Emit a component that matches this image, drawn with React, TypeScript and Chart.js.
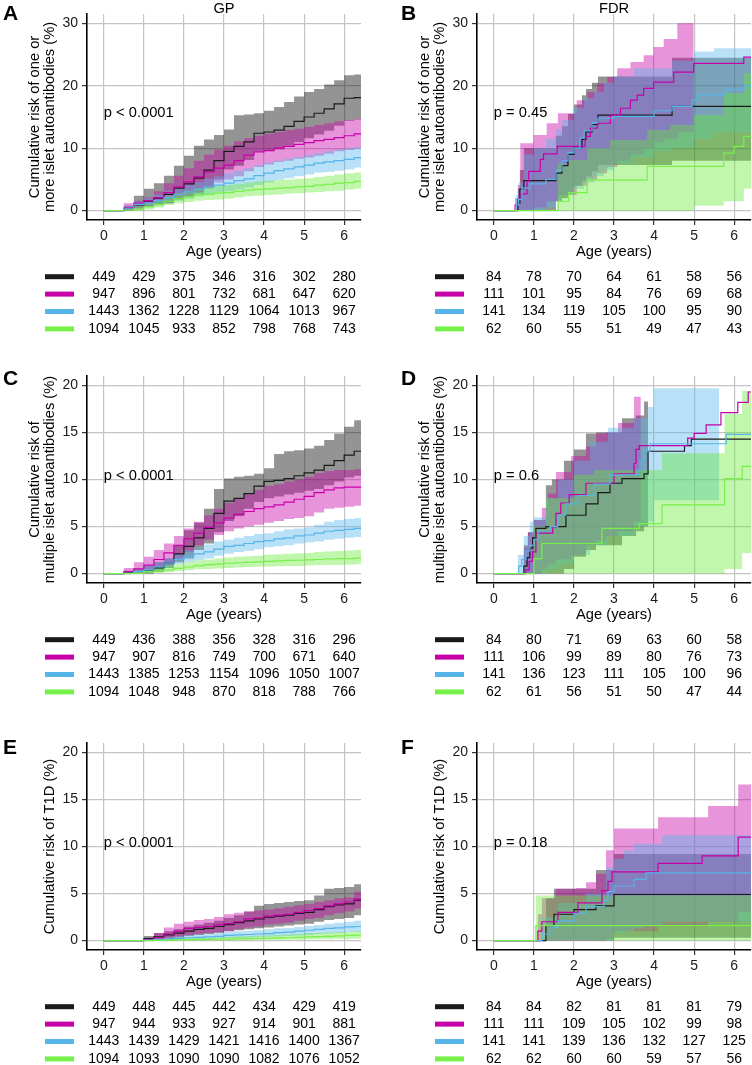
import React, { useEffect, useRef } from "react";
import { Chart, registerables } from "chart.js";

Chart.register(...registerables);

const FONT = "'Liberation Sans', Arial, Helvetica, sans-serif";

// ---------- axes ----------
const xTicks = [0, 1, 2, 3, 4, 5, 6];
const yTicks30 = [0, 10, 20, 30];
const yTicks20 = [0, 5, 10, 15, 20];
const X_MIN = -0.42;
const X_MAX = 6.42;

// ---------- numbers at risk (rows: black, magenta, blue, green) ----------
const riskA_black = [449, 429, 375, 346, 316, 302, 280];
const riskA_pink = [947, 896, 801, 732, 681, 647, 620];
const riskA_blue = [1443, 1362, 1228, 1129, 1064, 1013, 967];
const riskA_green = [1094, 1045, 933, 852, 798, 768, 743];
const riskB_black = [84, 78, 70, 64, 61, 58, 56];
const riskB_pink = [111, 101, 95, 84, 76, 69, 68];
const riskB_blue = [141, 134, 119, 105, 100, 95, 90];
const riskB_green = [62, 60, 55, 51, 49, 47, 43];
const riskC_black = [449, 436, 388, 356, 328, 316, 296];
const riskC_pink = [947, 907, 816, 749, 700, 671, 640];
const riskC_blue = [1443, 1385, 1253, 1154, 1096, 1050, 1007];
const riskC_green = [1094, 1048, 948, 870, 818, 788, 766];
const riskD_black = [84, 80, 71, 69, 63, 60, 58];
const riskD_pink = [111, 106, 99, 89, 80, 76, 73];
const riskD_blue = [141, 136, 123, 111, 105, 100, 96];
const riskD_green = [62, 61, 56, 51, 50, 47, 44];
const riskE_black = [449, 448, 445, 442, 434, 429, 419];
const riskE_pink = [947, 944, 933, 927, 914, 901, 881];
const riskE_blue = [1443, 1439, 1429, 1421, 1416, 1400, 1367];
const riskE_green = [1094, 1093, 1090, 1090, 1082, 1076, 1052];
const riskF_black = [84, 84, 82, 81, 81, 81, 79];
const riskF_pink = [111, 111, 109, 105, 102, 99, 98];
const riskF_blue = [141, 141, 139, 136, 132, 127, 125];
const riskF_green = [62, 62, 60, 60, 59, 57, 56];

// ---------- GP curves (shared time grid, years) ----------
const gpT = [0, 0.45, 0.5, 0.75, 1, 1.25, 1.5, 1.75, 2, 2.25, 2.5, 2.75, 3, 3.25, 3.5, 3.75, 4, 4.25, 4.5, 4.75, 5, 5.25, 5.5, 5.75, 6, 6.25, 6.45];

const aBlack = [0, 0, 0.3, 0.9, 1.5, 2.0, 2.6, 3.6, 4.3, 5.2, 6.5, 8.0, 9.5, 10.3, 11.0, 12.4, 12.6, 12.9, 13.5, 14.3, 15.0, 15.6, 16.3, 17.1, 18.0, 18.1, 18.1];
const aBlackLo = [0, 0, 0, 0.2, 0.6, 0.9, 1.2, 1.8, 2.2, 2.7, 3.6, 5.0, 6.6, 7.2, 8.1, 9.5, 9.6, 9.8, 10.4, 11.0, 11.6, 12.2, 12.8, 13.6, 14.4, 14.6, 14.6];
const aBlackHi = [0, 0, 0.8, 2.4, 3.5, 4.4, 5.6, 7.2, 8.8, 10.4, 11.4, 12.1, 13.0, 15.3, 15.4, 15.6, 16.0, 16.6, 17.4, 18.3, 19.0, 19.5, 20.2, 20.9, 21.7, 21.8, 21.8];
const aPink = [0, 0, 0.4, 1.2, 1.6, 2.1, 2.9, 3.8, 4.6, 5.4, 6.2, 6.8, 7.3, 8.0, 8.9, 9.4, 9.6, 10.0, 10.3, 10.6, 10.9, 11.2, 11.4, 11.7, 12.0, 12.3, 12.4];
const aPinkLo = [0, 0, 0, 0.3, 0.6, 0.9, 1.2, 1.8, 2.2, 3.0, 3.6, 4.5, 5.0, 5.5, 6.3, 7.0, 7.4, 7.8, 8.0, 8.3, 8.5, 8.8, 9.1, 9.5, 9.7, 9.9, 10.0];
const aPinkHi = [0, 0, 1.2, 1.6, 2.1, 3.1, 4.4, 5.6, 6.8, 8.0, 9.0, 9.8, 10.4, 11.1, 11.6, 12.0, 12.3, 12.6, 12.9, 13.1, 13.4, 13.7, 14.0, 14.3, 14.5, 14.7, 14.8];
const aBlue = [0, 0, 0.3, 1.0, 1.2, 1.6, 2.1, 2.6, 3.0, 3.4, 3.8, 4.1, 4.4, 4.8, 5.1, 5.6, 6.0, 6.4, 6.7, 7.0, 7.3, 7.6, 7.8, 8.0, 8.2, 8.5, 8.7];
const aBlueLo = [0, 0, 0, 0.5, 0.6, 0.8, 1.2, 1.6, 1.9, 2.3, 2.6, 2.9, 3.1, 3.4, 3.7, 4.1, 4.5, 4.9, 5.2, 5.5, 5.8, 6.1, 6.2, 6.4, 6.6, 6.9, 7.1];
const aBlueHi = [0, 0, 0.8, 1.5, 2.0, 2.6, 3.2, 3.7, 4.2, 4.6, 5.1, 5.5, 6.0, 6.4, 6.8, 7.3, 7.7, 8.0, 8.3, 8.6, 8.9, 9.2, 9.5, 9.8, 10.0, 10.2, 10.3];
const aGreen = [0, 0, 0.1, 0.3, 0.6, 1.0, 1.5, 1.9, 2.2, 2.5, 2.6, 2.8, 2.9, 3.1, 3.3, 3.4, 3.5, 3.6, 3.7, 3.8, 3.9, 4.1, 4.2, 4.4, 4.5, 4.7, 4.8];
const aGreenLo = [0, 0, 0, 0, 0.2, 0.5, 0.9, 1.2, 1.4, 1.6, 1.7, 1.8, 1.9, 2.1, 2.3, 2.4, 2.5, 2.6, 2.7, 2.8, 2.9, 3.0, 3.1, 3.2, 3.4, 3.5, 3.6];
const aGreenHi = [0, 0, 0.4, 0.8, 1.2, 1.7, 2.3, 2.8, 3.2, 3.6, 3.8, 4.0, 4.1, 4.3, 4.5, 4.7, 4.8, 4.9, 5.0, 5.1, 5.2, 5.4, 5.6, 5.8, 6.0, 6.1, 6.2];

const cBlack = [0, 0, 0.1, 0.2, 0.3, 0.6, 1.1, 2.1, 2.9, 3.8, 4.8, 6.4, 7.7, 8.0, 8.5, 9.3, 9.8, 9.9, 10.1, 10.4, 10.7, 11.0, 11.5, 12.0, 12.6, 13.0, 13.0];
const cBlackLo = [0, 0, 0, 0, 0, 0.2, 0.6, 1.2, 1.6, 2.5, 3.2, 4.4, 5.6, 6.1, 6.9, 7.6, 8.0, 8.2, 8.4, 8.6, 8.8, 9.0, 9.4, 9.8, 10.2, 10.4, 10.4];
const cBlackHi = [0, 0, 0.3, 0.5, 0.8, 1.2, 1.6, 3.0, 4.6, 5.4, 6.9, 9.0, 10.1, 10.3, 10.4, 10.6, 11.2, 12.7, 13.0, 13.1, 13.3, 13.6, 14.2, 14.9, 15.6, 16.3, 16.3];
const cPink = [0, 0, 0.2, 0.5, 0.9, 1.5, 2.2, 3.0, 3.7, 4.3, 4.9, 5.4, 5.9, 6.3, 6.6, 6.9, 7.1, 7.3, 7.6, 7.9, 8.2, 8.6, 8.9, 9.1, 9.2, 9.2, 9.2];
const cPinkLo = [0, 0, 0, 0.1, 0.3, 0.6, 0.9, 1.6, 2.3, 3.0, 3.6, 4.1, 4.5, 4.8, 5.0, 5.2, 5.4, 5.6, 5.8, 5.9, 6.1, 6.5, 6.9, 7.0, 7.1, 7.2, 7.2];
const cPinkHi = [0, 0, 0.6, 1.2, 1.8, 2.5, 3.2, 4.0, 4.8, 5.5, 6.2, 6.9, 7.5, 8.0, 8.5, 8.9, 9.3, 9.5, 9.8, 10.0, 10.3, 10.7, 10.9, 11.0, 11.0, 11.1, 11.1];
const cBlue = [0, 0, 0.05, 0.2, 0.4, 0.7, 1.1, 1.5, 1.8, 2.1, 2.3, 2.6, 2.9, 3.0, 3.2, 3.4, 3.5, 3.7, 3.8, 4.0, 4.1, 4.3, 4.5, 4.6, 4.7, 4.8, 4.9];
const cBlueLo = [0, 0, 0, 0, 0.1, 0.3, 0.6, 1.0, 1.2, 1.4, 1.6, 1.9, 2.1, 2.3, 2.4, 2.6, 2.8, 2.9, 3.0, 3.2, 3.3, 3.4, 3.6, 3.7, 3.8, 3.9, 4.0];
const cBlueHi = [0, 0, 0.2, 0.5, 0.9, 1.2, 1.6, 2.1, 2.5, 2.8, 3.1, 3.4, 3.6, 3.8, 4.0, 4.2, 4.3, 4.5, 4.7, 4.8, 4.9, 5.2, 5.5, 5.7, 5.8, 5.9, 5.9];
const cGreen = [0, 0, 0, 0.05, 0.2, 0.3, 0.4, 0.55, 0.7, 0.85, 0.95, 1.0, 1.1, 1.15, 1.2, 1.25, 1.3, 1.35, 1.4, 1.42, 1.45, 1.5, 1.55, 1.6, 1.6, 1.65, 1.7];
const cGreenLo = [0, 0, 0, 0, 0, 0.05, 0.15, 0.25, 0.35, 0.45, 0.5, 0.55, 0.6, 0.65, 0.7, 0.72, 0.75, 0.78, 0.8, 0.82, 0.85, 0.88, 0.9, 0.92, 0.95, 1.0, 1.0];
const cGreenHi = [0, 0, 0.1, 0.3, 0.5, 0.7, 0.9, 1.0, 1.2, 1.4, 1.5, 1.6, 1.7, 1.8, 1.85, 1.9, 2.0, 2.05, 2.1, 2.15, 2.2, 2.3, 2.35, 2.4, 2.45, 2.5, 2.5];

const eBlack = [0, 0, 0, 0, 0.2, 0.4, 0.6, 0.8, 1.0, 1.2, 1.3, 1.5, 1.7, 1.9, 2.1, 2.3, 2.5, 2.6, 2.7, 2.9, 3.0, 3.3, 3.6, 3.8, 3.9, 4.3, 4.6];
const eBlackLo = [0, 0, 0, 0, 0, 0.1, 0.2, 0.3, 0.5, 0.6, 0.7, 0.8, 1.0, 1.1, 1.2, 1.3, 1.4, 1.5, 1.6, 1.7, 1.8, 2.0, 2.2, 2.3, 2.4, 2.7, 3.0];
const eBlackHi = [0, 0, 0, 0, 0.5, 0.8, 1.0, 1.2, 1.5, 1.7, 1.9, 2.1, 2.4, 2.7, 3.1, 3.7, 3.9, 4.0, 4.1, 4.2, 4.3, 4.8, 5.5, 5.6, 5.7, 6.0, 6.2];
const ePink = [0, 0, 0, 0, 0.1, 0.3, 0.7, 1.0, 1.3, 1.4, 1.5, 1.7, 1.8, 2.0, 2.3, 2.4, 2.6, 2.7, 2.8, 3.0, 3.2, 3.4, 3.7, 3.9, 4.1, 4.4, 4.7];
const ePinkLo = [0, 0, 0, 0, 0, 0, 0.2, 0.4, 0.6, 0.7, 0.8, 0.9, 1.0, 1.2, 1.4, 1.5, 1.7, 1.8, 1.9, 2.1, 2.3, 2.4, 2.7, 2.9, 3.1, 3.4, 3.6];
const ePinkHi = [0, 0, 0, 0, 0.3, 0.8, 1.4, 1.8, 2.0, 2.2, 2.3, 2.5, 2.8, 2.95, 3.1, 3.2, 3.3, 3.45, 3.6, 3.75, 3.9, 4.1, 4.3, 4.5, 4.6, 5.2, 5.6];
const eBlue = [0, 0, 0, 0, 0.05, 0.1, 0.15, 0.2, 0.3, 0.35, 0.4, 0.45, 0.55, 0.6, 0.65, 0.7, 0.75, 0.85, 0.9, 1.0, 1.1, 1.2, 1.3, 1.35, 1.45, 1.5, 1.55];
const eBlueLo = [0, 0, 0, 0, 0, 0, 0.02, 0.05, 0.1, 0.12, 0.15, 0.2, 0.25, 0.28, 0.3, 0.35, 0.4, 0.45, 0.5, 0.55, 0.6, 0.7, 0.75, 0.8, 0.9, 0.92, 0.95];
const eBlueHi = [0, 0, 0, 0, 0.15, 0.25, 0.35, 0.45, 0.6, 0.65, 0.7, 0.8, 0.9, 1.0, 1.05, 1.1, 1.2, 1.3, 1.35, 1.45, 1.55, 1.65, 1.8, 1.9, 2.0, 2.1, 2.15];
const eGreen = [0, 0, 0, 0, 0, 0.02, 0.05, 0.08, 0.1, 0.11, 0.12, 0.14, 0.15, 0.18, 0.2, 0.22, 0.25, 0.28, 0.3, 0.35, 0.4, 0.42, 0.45, 0.5, 0.55, 0.58, 0.6];
const eGreenLo = [0, 0, 0, 0, 0, 0, 0, 0, 0, 0, 0, 0, 0.02, 0.03, 0.04, 0.05, 0.06, 0.07, 0.08, 0.1, 0.12, 0.13, 0.14, 0.16, 0.18, 0.19, 0.2];
const eGreenHi = [0, 0, 0, 0, 0, 0.08, 0.15, 0.2, 0.25, 0.28, 0.3, 0.35, 0.4, 0.45, 0.5, 0.52, 0.55, 0.6, 0.65, 0.72, 0.8, 0.82, 0.85, 0.9, 0.95, 1.0, 1.05];

// ---------- FDR curves (own event times) ----------
const bBlackT = [0, 0.6, 0.65, 0.75, 1.55, 1.7, 1.85, 2.0, 2.2, 2.3, 2.45, 2.6, 4.45, 6.45];
const bBlack = [0, 1.2, 3.5, 4.8, 6.0, 7.2, 9.0, 10.2, 11.4, 12.6, 13.8, 15.3, 16.7, 16.7];
const bBlackLo = [0, 0, 0, 0, 1.5, 2.0, 3.0, 4.0, 4.8, 5.5, 6.3, 7.3, 8.0, 8.0];
const bBlackHi = [0, 3.5, 6.5, 10.0, 12.0, 13.5, 15.5, 17.0, 18.5, 19.5, 20.5, 21.5, 24.5, 24.5];
const bPinkT = [0, 0.53, 0.6, 0.68, 0.83, 0.87, 1.16, 1.24, 1.58, 2.28, 2.41, 2.58, 2.91, 3.16, 3.41, 3.58, 3.74, 3.99, 4.49, 4.99, 6.24, 6.45];
const bPink = [0, 0.9, 1.8, 2.7, 4.7, 6.3, 8.2, 9.1, 10.3, 11.9, 13.2, 14.0, 15.3, 16.4, 17.7, 18.5, 19.6, 20.6, 22.2, 23.6, 24.6, 24.6];
const bPinkBandT = [0, 0.53, 0.6, 0.66, 0.99, 1.32, 1.6, 2.07, 2.33, 2.58, 2.83, 3.08, 3.41, 3.74, 3.99, 4.24, 4.58, 4.99];
const bPinkLo = [0, 0, 0, 0, 0.5, 1.5, 2.5, 4.0, 5.0, 6.0, 7.0, 8.0, 9.0, 10.0, 11.0, 11.5, 12.5, 12.5];
const bPinkHi = [0, 2.0, 4.1, 10.8, 12.1, 14.0, 15.6, 17.7, 19.0, 20.4, 21.4, 22.8, 23.8, 24.9, 26.2, 27.5, 30.0, 30.0];
const bBlueT = [0, 0.55, 0.62, 0.7, 0.9, 1.3, 1.55, 1.7, 1.85, 2.0, 2.15, 2.25, 2.45, 2.6, 3.0, 4.0, 4.45, 4.95, 5.1, 5.75, 6.25, 6.45];
const bBlue = [0, 0.9, 1.8, 3.6, 4.3, 5.0, 6.4, 8.0, 9.3, 10.0, 11.6, 12.8, 14.1, 14.8, 15.1, 16.0, 16.7, 17.8, 18.6, 19.4, 20.0, 20.0];
const bBlueBandT = [0, 0.55, 0.62, 0.75, 1.0, 1.3, 1.55, 1.7, 2.0, 2.25, 2.5, 2.75, 3.0, 3.5, 4.0, 4.45, 5.0, 5.5, 6.45];
const bBlueLo = [0, 0, 0, 0, 0, 0.5, 1.5, 2.5, 3.5, 4.5, 5.5, 6.5, 7.5, 8.5, 9.5, 10.0, 11.5, 12.5, 12.5];
const bBlueHi = [0, 2.5, 4.5, 9.0, 10.0, 11.5, 13.0, 14.5, 16.5, 18.0, 19.0, 20.5, 21.5, 22.8, 22.8, 24.0, 25.5, 26.0, 26.0];
const bGreenT = [0, 1.6, 1.87, 2.33, 3.83, 5.74, 6.0, 6.24, 6.45];
const bGreen = [0, 1.5, 2.9, 4.9, 7.1, 9.2, 10.3, 11.9, 11.9];
const bGreenBandT = [0, 1.6, 1.87, 2.33, 2.9, 3.83, 4.4, 5.0, 5.74, 6.24, 6.45];
const bGreenLo = [0, 0, 0, 0, 0, 0, 0, 0.8, 1.5, 3.5, 3.5];
const bGreenHi = [0, 7.5, 8.1, 10.0, 11.3, 12.9, 13.7, 15.3, 18.8, 22.0, 22.0];

const dBlackT = [0, 0.75, 0.83, 0.9, 0.97, 1.05, 1.3, 1.8, 2.3, 2.6, 2.9, 3.2, 3.75, 3.85, 4.76, 4.93, 6.45];
const dBlack = [0, 0.8, 1.7, 2.7, 3.8, 4.8, 5.0, 6.2, 7.4, 8.6, 9.6, 10.1, 10.6, 13.0, 13.6, 14.3, 14.3];
const dBlackBandT = [0, 0.75, 0.85, 1.0, 1.3, 1.45, 1.75, 2.0, 2.3, 2.55, 3.2, 3.55, 3.75, 3.85];
const dBlackLo = [0, 0, 0, 0, 0, 0, 0.5, 1.8, 2.5, 3.0, 4.0, 4.5, 5.0, 5.0];
const dBlackHi = [0, 3.0, 4.4, 5.7, 9.4, 10.0, 12.0, 13.2, 14.9, 15.0, 16.5, 16.8, 18.3, 18.3];
const dPinkT = [0, 0.8, 0.88, 0.97, 1.05, 1.47, 1.55, 1.67, 1.88, 2.3, 3.0, 3.5, 3.55, 3.63, 4.84, 5.0, 5.3, 5.67, 6.09, 6.35, 6.45];
const dPink = [0, 0.4, 1.3, 2.3, 4.3, 5.0, 6.4, 7.5, 8.4, 9.6, 10.6, 11.7, 13.2, 13.6, 14.4, 14.9, 15.8, 17.1, 18.2, 19.3, 19.3];
const dPinkBandT = [0, 0.75, 0.85, 1.0, 1.2, 1.35, 1.55, 1.93, 2.3, 2.55, 2.8, 3.1, 3.5, 3.67];
const dPinkLo = [0, 0, 0, 0, 0.5, 1.0, 1.5, 2.0, 3.0, 3.5, 4.0, 4.5, 5.5, 5.5];
const dPinkHi = [0, 2.8, 4.4, 5.7, 7.0, 8.5, 10.8, 12.5, 13.5, 14.9, 15.0, 16.0, 18.8, 18.8];
const dBlueT = [0, 0.62, 0.7, 0.8, 0.9, 1.0, 1.1, 1.4, 1.6, 1.8, 2.1, 2.5, 2.9, 3.6, 3.65, 3.75, 3.9, 5.8, 6.45];
const dBlue = [0, 0.8, 1.5, 2.4, 3.0, 3.6, 4.5, 5.0, 6.2, 7.4, 8.3, 9.5, 10.5, 11.0, 12.0, 13.0, 13.8, 14.8, 14.8];
const dBlueBandT = [0, 0.6, 0.75, 0.9, 1.0, 1.3, 1.6, 2.0, 2.4, 2.85, 3.5, 3.85, 4.0, 5.63];
const dBlueLo = [0, 0, 0, 0, 0, 0.5, 1.0, 2.0, 3.0, 4.0, 5.0, 5.5, 7.8, 7.8];
const dBlueHi = [0, 2.0, 4.0, 5.5, 6.0, 8.0, 10.0, 12.0, 14.0, 15.5, 16.5, 17.7, 19.7, 19.7];
const dGreenT = [0, 1.0, 1.2, 2.7, 3.63, 4.2, 5.76, 6.2, 6.45];
const dGreen = [0, 1.6, 3.2, 4.8, 5.3, 7.3, 10.1, 11.4, 11.4];
const dGreenBandT = [0, 1.0, 1.3, 2.0, 2.5, 3.9, 4.2, 5.6, 5.76, 6.2, 6.45];
const dGreenLo = [0, 0, 0, 0, 0, 0, 0, 0, 0.5, 2.2, 2.2];
const dGreenHi = [0, 5.0, 8.0, 10.5, 11.0, 11.0, 12.8, 12.8, 17.0, 19.4, 19.4];

const fBlackT = [0, 1.3, 1.5, 2.0, 2.55, 3.0, 6.45];
const fBlack = [0, 1.6, 2.8, 3.3, 3.7, 4.9, 4.9];
const fBlackLo = [0, 0, 0, 0, 0, 0.3, 0.3];
const fBlackHi = [0, 4.5, 5.5, 5.5, 7.5, 9.2, 9.2];
const fPinkT = [0, 1.1, 1.2, 1.6, 2.1, 2.7, 2.85, 2.95, 4.1, 5.2, 6.1, 6.45];
const fPink = [0, 1.0, 2.0, 3.0, 4.0, 5.3, 6.3, 7.3, 8.2, 9.0, 11.0, 11.0];
const fPinkBandT = [0, 1.1, 1.2, 1.55, 2.05, 2.3, 2.55, 2.8, 3.0, 4.1, 5.35, 6.1, 6.45];
const fPinkLo = [0, 0, 0, 0, 0, 0, 0, 0.2, 1.0, 1.5, 2.0, 3.0, 3.0];
const fPinkHi = [0, 2.8, 4.5, 5.5, 5.6, 6.2, 7.1, 9.6, 11.9, 13.1, 14.3, 16.6, 16.6];
const fBlueT = [0, 1.2, 1.4, 1.6, 2.0, 2.3, 2.75, 2.85, 3.0, 3.5, 3.8, 6.45];
const fBlue = [0, 0.7, 1.4, 2.1, 2.9, 3.6, 4.3, 5.2, 5.8, 6.5, 7.2, 7.2];
const fBlueBandT = [0, 1.2, 1.6, 2.3, 2.8, 3.0, 3.25, 3.5, 3.75, 4.2, 6.45];
const fBlueLo = [0, 0, 0, 0, 0, 0.8, 1.0, 1.3, 1.6, 2.0, 2.0];
const fBlueHi = [0, 2.5, 4.0, 5.0, 7.8, 8.7, 9.6, 10.3, 10.3, 11.2, 11.2];
const fGreenT = [0, 1.05, 6.45];
const fGreen = [0, 1.6, 1.6];
const fGreenLo = [0, 0, 0];
const fGreenHi = [0, 4.8, 4.8];

// ---------- styles ----------
const LINE_COLORS = ["#1a1a1a", "#c800aa", "#56b4e9", "#78f04a"];
const BAND_COLORS = [
  "rgba(0,0,0,0.42)",
  "rgba(200,0,170,0.42)",
  "rgba(86,180,233,0.42)",
  "rgba(100,232,50,0.40)",
];
const GRID = "#c4c4c4";

// layout geometry
const COL_X = [0, 376];
const COL_W = 376;
const PLOT_L = [87, 101];
const PLOT_R = [361, 375];
const LETTER_X = [3, 25];
const ROW_Y = [0, 345, 710];
const ROW_H = [345, 365, 355];
const PLOT_T = [14, 31, 33];
const PLOT_B = [220, 238, 240];
const LETTER_BASE = [20, 40, 44];
const X_AXIS_H = 42;

type Series = { t: number[]; est: number[]; bt: number[]; lo: number[]; hi: number[] };
const S = (t: number[], est: number[], bt: number[], lo: number[], hi: number[]): Series => ({ t, est, bt, lo, hi });

type PanelCfg = {
  letter: string;
  col: number;
  row: number;
  head?: string;
  yMax: number;
  yTicks: number[];
  yTitle: string[];
  p: string;
  risk: number[][];
  series: Series[];
};

const TITLE_ONE = ["Cumulative risk of one or", "more islet autoantibodies (%)"];
const TITLE_MULTI = ["Cumulative risk of", "multiple islet autoantibodies (%)"];
const TITLE_T1D = ["Cumulative risk of T1D (%)"];

const PANELS: PanelCfg[] = [
  {
    letter: "A", col: 0, row: 0, head: "GP", yMax: 30, yTicks: yTicks30, yTitle: TITLE_ONE, p: "p < 0.0001",
    risk: [riskA_black, riskA_pink, riskA_blue, riskA_green],
    series: [
      S(gpT, aBlack, gpT, aBlackLo, aBlackHi),
      S(gpT, aPink, gpT, aPinkLo, aPinkHi),
      S(gpT, aBlue, gpT, aBlueLo, aBlueHi),
      S(gpT, aGreen, gpT, aGreenLo, aGreenHi),
    ],
  },
  {
    letter: "B", col: 1, row: 0, head: "FDR", yMax: 30, yTicks: yTicks30, yTitle: TITLE_ONE, p: "p = 0.45",
    risk: [riskB_black, riskB_pink, riskB_blue, riskB_green],
    series: [
      S(bBlackT, bBlack, bBlackT, bBlackLo, bBlackHi),
      S(bPinkT, bPink, bPinkBandT, bPinkLo, bPinkHi),
      S(bBlueT, bBlue, bBlueBandT, bBlueLo, bBlueHi),
      S(bGreenT, bGreen, bGreenBandT, bGreenLo, bGreenHi),
    ],
  },
  {
    letter: "C", col: 0, row: 1, yMax: 20, yTicks: yTicks20, yTitle: TITLE_MULTI, p: "p < 0.0001",
    risk: [riskC_black, riskC_pink, riskC_blue, riskC_green],
    series: [
      S(gpT, cBlack, gpT, cBlackLo, cBlackHi),
      S(gpT, cPink, gpT, cPinkLo, cPinkHi),
      S(gpT, cBlue, gpT, cBlueLo, cBlueHi),
      S(gpT, cGreen, gpT, cGreenLo, cGreenHi),
    ],
  },
  {
    letter: "D", col: 1, row: 1, yMax: 20, yTicks: yTicks20, yTitle: TITLE_MULTI, p: "p = 0.6",
    risk: [riskD_black, riskD_pink, riskD_blue, riskD_green],
    series: [
      S(dBlackT, dBlack, dBlackBandT, dBlackLo, dBlackHi),
      S(dPinkT, dPink, dPinkBandT, dPinkLo, dPinkHi),
      S(dBlueT, dBlue, dBlueBandT, dBlueLo, dBlueHi),
      S(dGreenT, dGreen, dGreenBandT, dGreenLo, dGreenHi),
    ],
  },
  {
    letter: "E", col: 0, row: 2, yMax: 20, yTicks: yTicks20, yTitle: TITLE_T1D, p: "p < 0.0001",
    risk: [riskE_black, riskE_pink, riskE_blue, riskE_green],
    series: [
      S(gpT, eBlack, gpT, eBlackLo, eBlackHi),
      S(gpT, ePink, gpT, ePinkLo, ePinkHi),
      S(gpT, eBlue, gpT, eBlueLo, eBlueHi),
      S(gpT, eGreen, gpT, eGreenLo, eGreenHi),
    ],
  },
  {
    letter: "F", col: 1, row: 2, yMax: 20, yTicks: yTicks20, yTitle: TITLE_T1D, p: "p = 0.18",
    risk: [riskF_black, riskF_pink, riskF_blue, riskF_green],
    series: [
      S(fBlackT, fBlack, fBlackT, fBlackLo, fBlackHi),
      S(fPinkT, fPink, fPinkBandT, fPinkLo, fPinkHi),
      S(fBlueT, fBlue, fBlueBandT, fBlueLo, fBlueHi),
      S(fGreenT, fGreen, fGreenT, fGreenLo, fGreenHi),
    ],
  },
];

const pts = (t: number[], v: number[]) => t.map((x, i) => ({ x, y: v[i] }));

function buildDatasets(series: Series[]) {
  const ds: any[] = [];
  series.forEach((s, k) => {
    ds.push({
      data: pts(s.bt, s.lo), stepped: true, fill: false, pointRadius: 0,
      borderWidth: 0, borderColor: "rgba(0,0,0,0)", backgroundColor: "rgba(0,0,0,0)", order: 20 - k,
    });
    ds.push({
      data: pts(s.bt, s.hi), stepped: true, fill: "-1", pointRadius: 0,
      borderWidth: 0, borderColor: "rgba(0,0,0,0)", backgroundColor: BAND_COLORS[k], order: 20 - k,
    });
  });
  series.forEach((s, k) => {
    ds.push({
      data: pts(s.t, s.est), stepped: true, fill: false, pointRadius: 0,
      borderWidth: 1.2, borderColor: LINE_COLORS[k], backgroundColor: LINE_COLORS[k], order: 10 - k,
    });
  });
  return ds;
}

function Panel({ cfg }: { cfg: PanelCfg }) {
  const ref = useRef<HTMLCanvasElement>(null);
  const w = COL_W;
  const h = ROW_H[cfg.row];
  const pl = PLOT_L[cfg.col];
  const pr = PLOT_R[cfg.col];
  const pt = PLOT_T[cfg.row];
  const pb = PLOT_B[cfg.row];

  useEffect(() => {
    if (!ref.current) return;
    const titleCenter = pl - (cfg.yTitle.length === 2 ? 52 : 37);
    const decor = {
      id: "decor",
      afterDraw(chart: any) {
        const { ctx, chartArea: a, scales } = chart;
        const xs = scales.x;
        const ys = scales.y;
        ctx.save();
        ctx.fillStyle = "#000";
        ctx.textAlign = "left";
        ctx.textBaseline = "alphabetic";
        ctx.font = `bold 21px ${FONT}`;
        ctx.fillText(cfg.letter, LETTER_X[cfg.col], LETTER_BASE[cfg.row]);
        ctx.font = `14.7px ${FONT}`;
        if (cfg.head) {
          ctx.textAlign = "center";
          ctx.fillText(cfg.head, (a.left + a.right) / 2, a.top - 1);
        }
        ctx.textAlign = "left";
        ctx.fillText(cfg.p, xs.getPixelForValue(0), ys.getPixelForValue(cfg.yMax / 2));
        ctx.font = `14px ${FONT}`;
        ctx.textAlign = "center";
        ctx.textBaseline = "middle";
        cfg.risk.forEach((row, r) => {
          const y = a.bottom + 56.7 + r * 17.4;
          ctx.fillStyle = LINE_COLORS[r];
          ctx.fillRect(a.left - 42, y - 2.5, 29, 5);
          ctx.fillStyle = "#000";
          row.forEach((n, i) => ctx.fillText(String(n), xs.getPixelForValue(xTicks[i]), y));
        });
        ctx.restore();
      },
    };

    const chart = new Chart(ref.current, {
      type: "line",
      data: { datasets: buildDatasets(cfg.series) },
      options: {
        responsive: false,
        animation: false,
        devicePixelRatio: 1,
        events: [],
        layout: { padding: { left: 0, top: pt, right: w - pr, bottom: h - pb - X_AXIS_H } },
        plugins: {
          legend: { display: false },
          tooltip: { enabled: false },
          filler: { drawTime: "beforeDatasetsDraw", propagate: false },
        },
        scales: {
          x: {
            type: "linear",
            min: X_MIN,
            max: X_MAX,
            afterBuildTicks: (s: any) => { s.ticks = xTicks.map((v) => ({ value: v })); },
            afterFit: (s: any) => { s.height = X_AXIS_H; },
            grid: { color: GRID, lineWidth: 1.2, tickLength: 5, tickColor: "#333", tickWidth: 1.2 },
            border: { display: true, color: "#000", width: 1.6 },
            ticks: { font: { family: FONT, size: 14 }, color: "#1a1a1a", padding: 3, autoSkip: false, maxRotation: 0 },
            title: {
              display: true, text: "Age (years)", color: "#000",
              font: { family: FONT, size: 14.7, lineHeight: 1.2 }, padding: { top: 0, bottom: 1.5 },
            },
          },
          y: {
            type: "linear",
            min: -cfg.yMax * 0.05,
            max: cfg.yMax * 1.05,
            afterBuildTicks: (s: any) => { s.ticks = cfg.yTicks.map((v) => ({ value: v })); },
            afterFit: (s: any) => { s.width = pl; },
            grid: { color: GRID, lineWidth: 1.2, tickLength: 5, tickColor: "#333", tickWidth: 1.2 },
            border: { display: true, color: "#000", width: 1.6 },
            ticks: { font: { family: FONT, size: 14 }, color: "#1a1a1a", padding: 4, autoSkip: false },
            title: {
              display: true, text: cfg.yTitle, color: "#000",
              font: { family: FONT, size: 14.7, lineHeight: 15 / 14.7 },
              padding: { top: titleCenter - 7.5, bottom: 0 },
            },
          },
        },
      } as any,
      plugins: [decor],
    } as any);
    return () => chart.destroy();
  }, []);

  return (
    <canvas
      ref={ref}
      width={w}
      height={h}
      style={{ position: "absolute", left: COL_X[cfg.col], top: ROW_Y[cfg.row], width: w, height: h }}
    />
  );
}

export default function App() {
  return (
    <div style={{ position: "absolute", left: 0, top: 0, width: 752, height: 1065, background: "#fff", overflow: "hidden" }}>
      {PANELS.map((p) => (
        <Panel key={p.letter} cfg={p} />
      ))}
    </div>
  );
}
